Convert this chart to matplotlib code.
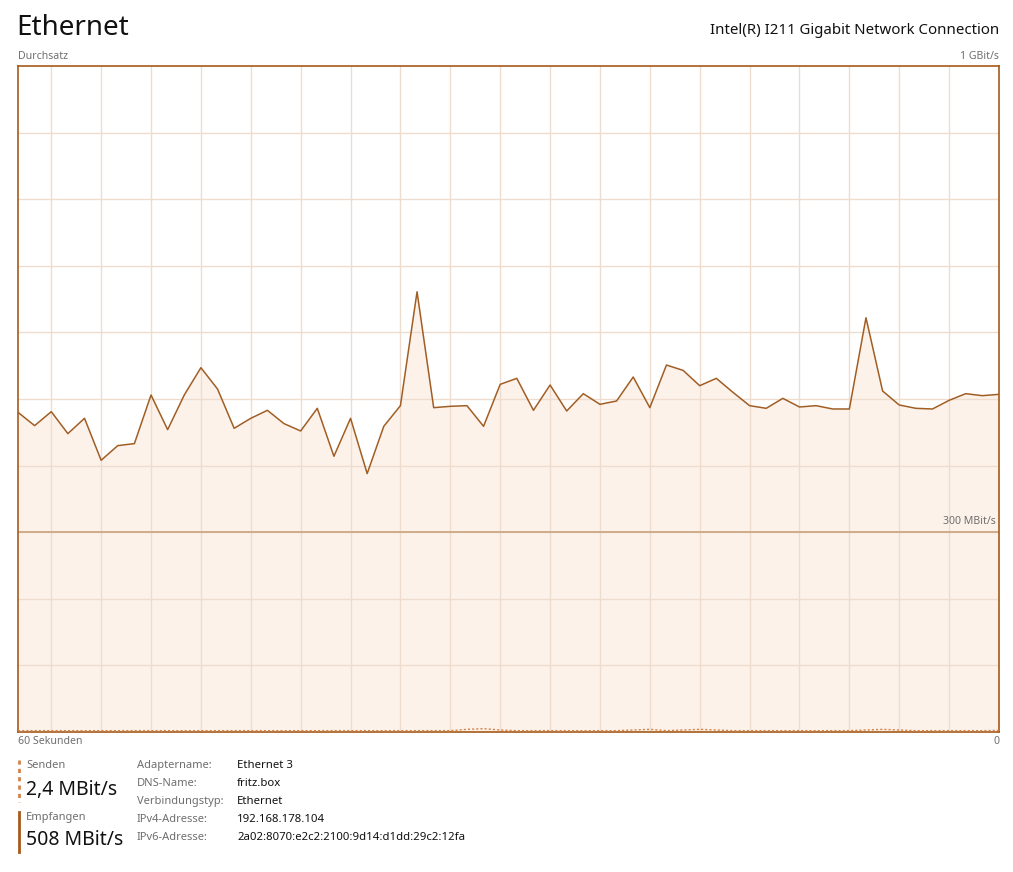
import numpy as np
import matplotlib
matplotlib.use("Agg")
import matplotlib.pyplot as plt
from matplotlib.lines import Line2D

W, H = 1013, 872

# Durchsatz in MBit/s, aelteste Sekunde zuerst
received = [480, 460, 481, 448, 471, 408, 430, 433, 506, 454, 506, 547, 515, 456, 471,
            483, 463, 452, 486, 414, 471, 388, 459, 490, 661, 487, 489, 490, 459, 522,
            531, 483, 521, 482, 508, 492, 497, 533, 487, 551, 543, 520, 531, 510,
            490, 486, 501, 488, 490, 485, 485, 622, 512, 491, 486, 485, 498, 508, 505, 507]
sent = [2, 2, 2, 2, 2, 2, 2, 2, 2, 2, 2, 2, 2, 2, 2,
        2, 2, 2, 2, 2, 2, 2, 2, 2, 2, 2, 2, 4, 5, 3,
        2, 2, 2, 2, 2, 2, 2, 3, 4, 2, 3, 4, 3, 2,
        2, 2, 2, 2, 2, 2, 2, 3, 4, 3, 2, 2, 2, 2, 2, 2.4]

info_labels = ["Adaptername:", "DNS-Name:", "Verbindungstyp:", "IPv4-Adresse:", "IPv6-Adresse:"]
info_values = ["Ethernet 3", "fritz.box", "Ethernet", "192.168.178.104",
               "2a02:8070:e2c2:2100:9d14:d1dd:29c2:12fa"]

BORDER = "#A65A1A"
LINE = "#A15E24"
FILL = "#FCF2EA"
GRID = "#EEDDCF"
SEND = "#D0844A"
GRAY = "#6E6E6E"

plt.rcParams['font.family'] = ['Noto Sans', 'DejaVu Sans']

fig = plt.figure(figsize=(W / 100, H / 100), dpi=100)


def px(x, y):
    # Pixelkoordinaten -> Figure-Koordinaten
    return x / W, 1 - y / H


ax = fig.add_axes([18 / W, 140 / H, 981 / W, 666 / H])
x = np.arange(len(received))
ax.fill_between(x, received, color=FILL, lw=0, zorder=1)
ax.plot(x, received, color=LINE, lw=1.1, zorder=3)
ax.plot(x, sent, color=SEND, lw=1.0, ls=(0, (1.5, 1.5)), zorder=3)
ax.axhline(300, color="#C8A37F", lw=1.2, zorder=2)
ax.set_xlim(0, len(received) - 1)
ax.set_ylim(0, 1000)
ax.set_xticks(np.arange(2, 59, 3))
ax.set_yticks(range(100, 1000, 100))
ax.grid(color=GRID, lw=1)
ax.tick_params(length=0, labelbottom=False, labelleft=False)
for s in ax.spines.values():
    s.set_color(BORDER)
    s.set_linewidth(1.2)

# Kopfzeile
fig.text(*px(16, 28), "Ethernet", fontsize=20, va="center", ha="left", color="#111111")
fig.text(*px(999, 31), "Intel(R) I211 Gigabit Network Connection", fontsize=10.8,
         va="center", ha="right", color="#111111")
fig.text(*px(18, 56), "Durchsatz", fontsize=7.6, va="center", color=GRAY)
fig.text(*px(999, 56), "1 GBit/s", fontsize=7.6, va="center", ha="right", color=GRAY)
fig.text(*px(996, 522), "300 MBit/s", fontsize=7.6, va="center", ha="right", color=GRAY)
fig.text(*px(18, 742), "60 Sekunden", fontsize=7.6, va="center", color=GRAY)
fig.text(*px(999, 742), "0", fontsize=7.6, va="center", ha="right", color=GRAY)

# Legende unten
fig.add_artist(Line2D([19 / W, 19 / W], [1 - 760 / H, 1 - 802 / H], color=SEND,
                      lw=2, ls=(0, (1.5, 1.5))))
fig.add_artist(Line2D([19 / W, 19 / W], [1 - 812 / H, 1 - 852 / H], color=BORDER, lw=2))
fig.text(*px(26, 765), "Senden", fontsize=8, va="center", color=GRAY)
fig.text(*px(26, 790), "2,4 MBit/s", fontsize=14, va="center", color="#111111")
fig.text(*px(26, 817), "Empfangen", fontsize=8, va="center", color=GRAY)
fig.text(*px(26, 840), "508 MBit/s", fontsize=14, va="center", color="#111111")

for i, (lab, val) in enumerate(zip(info_labels, info_values)):
    yy = 765 + i * 18
    fig.text(*px(137, yy), lab, fontsize=8, va="center", color=GRAY)
    fig.text(*px(237, yy), val, fontsize=8.2, va="center", color="#111111")

fig.savefig("out.png", dpi=100, facecolor="white")
